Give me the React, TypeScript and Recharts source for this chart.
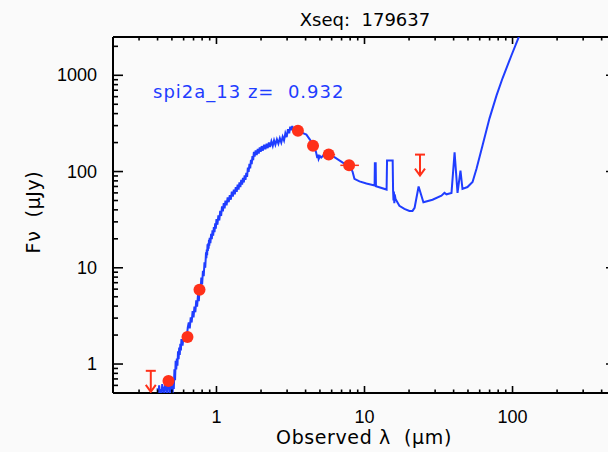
import React from 'react';
import { ComposedChart, Scatter, XAxis, YAxis, ErrorBar } from 'recharts';

const BLUE = '#1f3dff';
const RED = '#ff3019';
const BG = '#fafafa';

// model spectrum (wavelength in micron, flux in microJy)
const specWave = [
  0.400, 0.405, 0.410, 0.415, 0.420, 0.425, 0.430, 0.435, 0.440, 0.445,
  0.450, 0.455, 0.460, 0.465, 0.470, 0.475, 0.480, 0.485, 0.490, 0.495,
  0.500, 0.505, 0.510, 0.515, 0.520, 0.525, 0.530, 0.535, 0.540, 0.545,
  0.550, 0.555, 0.560, 0.565, 0.570, 0.575, 0.580, 0.590, 0.600, 0.610,
  0.620, 0.630, 0.640, 0.650, 0.660, 0.670, 0.680, 0.690, 0.700, 0.710,
  0.720, 0.730, 0.740, 0.750, 0.760, 0.770, 0.780, 0.790, 0.800, 0.810,
  0.820, 0.830, 0.840,
  0.850, 0.855, 0.860, 0.865, 0.870, 0.875, 0.880, 0.885, 0.890, 0.895,
  0.900, 0.910, 0.920, 0.930, 0.940, 0.950, 0.960, 0.970, 0.980, 0.990,
  1.000, 1.015, 1.030, 1.045, 1.060, 1.075, 1.090, 1.105, 1.120, 1.135,
  1.150, 1.170, 1.190, 1.210, 1.230, 1.250, 1.270, 1.290, 1.310, 1.330,
  1.350, 1.370, 1.390, 1.410, 1.430, 1.450, 1.470, 1.490, 1.510, 1.530,
  1.550, 1.570, 1.590, 1.610, 1.630, 1.650, 1.670, 1.690, 1.710, 1.730,
  1.750, 1.770, 1.790, 1.810, 1.840, 1.870, 1.900, 1.930, 1.960, 1.990,
  2.020, 2.060, 2.100, 2.140, 2.180, 2.220, 2.260, 2.300, 2.350, 2.400,
  2.450, 2.500, 2.560, 2.620, 2.680, 2.740, 2.800, 2.860, 2.920, 2.980,
  3.040, 3.100, 3.150, 3.200, 3.250, 3.300, 3.400,
  3.550, 3.800, 4.050, 4.300, 4.500, 4.700,
  4.800, 4.850, 4.900, 5.000, 5.100, 5.300, 5.600, 5.900, 6.300, 6.800,
  7.300, 7.900, 8.300, 8.550, 9.250, 10.30, 11.70, 11.75, 11.80, 11.90,
  11.95, 14.10, 14.20, 15.50, 15.60, 15.70, 15.80, 15.90, 16.00, 16.20,
  17.20, 18.60, 20.10, 21.10, 21.80, 23.20, 25.00, 28.80, 33.10, 34.70,
  35.80, 38.70, 40.60, 42.50, 44.50, 45.90, 49.60, 53.70, 57.10, 62.70,
  69.90, 78.00, 85.60, 98.40, 111.5, 126.0,
];
const specFlux = [
  0.56, 0.47, 0.60, 0.50, 0.55, 0.45, 0.62, 0.52, 0.58, 0.46,
  0.64, 0.53, 0.60, 0.47, 0.66, 0.55, 0.62, 0.46, 0.68, 0.52,
  0.64, 0.48, 0.66, 0.55, 0.88, 0.68, 1.08, 0.88, 1.14, 0.96,
  1.36, 1.12, 1.48, 1.24, 1.62, 1.38, 1.82, 1.55, 1.98, 1.72,
  2.15, 1.88, 2.40, 2.70, 2.35, 3.05, 2.70, 3.55, 3.05, 3.95,
  3.45, 4.60, 3.95, 5.20, 4.50, 6.20, 5.40, 7.90, 6.70, 9.30,
  8.20, 11.4, 10.0,
  14.5, 12.6, 15.5, 13.5, 17.5, 15.0, 18.0, 15.8, 19.5, 17.0,
  20.5, 18.0, 22.5, 19.8, 24.5, 21.5, 26.5, 23.5, 29.0, 25.5,
  32.0, 28.0, 35.0, 31.0, 39.0, 34.5, 43.5, 38.5, 47.0, 41.5,
  50.0, 44.5, 54.0, 48.0, 57.0, 51.0, 62.0, 55.0, 65.0, 58.0,
  69.0, 61.5, 73.0, 65.0, 77.0, 69.0, 82.0, 73.0, 86.0, 77.0,
  91.0, 82.0, 97.0, 88.0, 110.0, 99.0, 120.0, 108.0, 132.0, 119.0,
  145.0, 131.0, 160.0, 143.0, 166.0, 148.0, 172.0, 154.0, 178.0, 160.0,
  184.0, 165.0, 190.0, 170.0, 195.0, 175.0, 200.0, 180.0, 206.0, 185.0,
  211.0, 190.0, 216.0, 195.0, 222.0, 200.0, 230.0, 210.0, 250.0, 228.0,
  275.0, 250.0, 292.0, 268.0, 298.0, 270.0, 270.0,
  262.0, 252.0, 242.0, 212.0, 186.0, 160.0,
  138.0, 150.0, 135.0, 145.0, 140.0, 148.0, 150.0, 148.0, 140.0, 130.0,
  121.0, 115.0, 100.0, 84.0, 79.0, 75.0, 71.5, 125.0, 71.0, 125.0,
  70.5, 65.0, 130.0, 130.0, 63.0, 50.0, 62.0, 47.0, 58.0, 52.0,
  44.0, 41.0, 39.0, 39.0, 42.0, 70.0, 48.0, 51.0, 56.0, 60.0,
  58.0, 60.0, 158.0, 60.0, 102.0, 66.0, 69.0, 78.0, 107.0, 187.0,
  357.0, 619.0, 931.0, 1616.0, 2610.0, 4420.0,
];

// photometry
const photWave = [0.474, 0.637, 0.768, 3.55, 4.49, 5.73, 7.87];
const photFlux = [0.665, 1.91, 5.9, 265, 185, 150, 116];
const photErrLo = [0.02, 0.04, 0.03, 0.2, 0.35, 0.5, 1.0];
const photErrHi = [0.02, 0.04, 0.03, 0.2, 0.4, 0.6, 1.3];

// upper limits
const limWave = [0.36, 23.7];
const limFlux = [0.85, 150];

const xMajor = [1, 10, 100];
const xTicks = [
  0.2, 0.3, 0.4, 0.5, 0.6, 0.7, 0.8, 0.9, 1, 2, 3, 4, 5, 6, 7, 8, 9,
  10, 20, 30, 40, 50, 60, 70, 80, 90, 100, 200, 300, 400, 500,
];
const yMajor = [1, 10, 100, 1000];
const yTicks = [
  0.5, 0.6, 0.7, 0.8, 0.9, 1, 2, 3, 4, 5, 6, 7, 8, 9, 10, 20, 30, 40, 50, 60,
  70, 80, 90, 100, 200, 300, 400, 500, 600, 700, 800, 900, 1000, 2000,
];

const spec = specWave.map((w, i) => ({ x: w, y: specFlux[i] }));
const phot = photWave.map((w, i) => ({ x: w, y: photFlux[i], xe: [photErrLo[i], photErrHi[i]] }));
const lims = limWave.map((w, i) => ({ x: w, y: limFlux[i] }));

const TICK_FONT = "'Liberation Sans', Arial, sans-serif";
const TEXT_FONT = "'DejaVu Sans', sans-serif";
const TW = 1.6;

const BottomTick = (p: any) => {
  const { x, y, payload } = p;
  const major = xMajor.includes(payload.value);
  return (
    <g>
      <line x1={x} x2={x} y1={y} y2={y - (major ? 7 : 3.5)} stroke="#000" strokeWidth={TW} />
      {major && (
        <text x={x} y={y + 24} textAnchor="middle" dominantBaseline="central" fontSize={18} fontFamily={TICK_FONT} fill="#000">
          {String(payload.value)}
        </text>
      )}
    </g>
  );
};
const TopTick = (p: any) => {
  const { x, y, payload } = p;
  const major = xMajor.includes(payload.value);
  return <line x1={x} x2={x} y1={y} y2={y + (major ? 7 : 3.5)} stroke="#000" strokeWidth={TW} />;
};
const LeftTick = (p: any) => {
  const { x, y, payload } = p;
  const major = yMajor.includes(payload.value);
  return (
    <g>
      <line x1={x} x2={x + (major ? 10 : 5)} y1={y} y2={y} stroke="#000" strokeWidth={TW} />
      {major && (
        <text x={x - 16} y={y} textAnchor="end" dominantBaseline="central" fontSize={18} fontFamily={TICK_FONT} fill="#000">
          {String(payload.value)}
        </text>
      )}
    </g>
  );
};
const RightTick = (p: any) => {
  const { x, y, payload } = p;
  const major = yMajor.includes(payload.value);
  return <line x1={x} x2={x - (major ? 10 : 5)} y1={y} y2={y} stroke="#000" strokeWidth={TW} />;
};

const NoDot = () => <g />;
const Dot = (p: any) => <circle cx={p.cx} cy={p.cy} r={6} fill={RED} />;
const Limit = (p: any) => {
  const { cx, cy } = p;
  return (
    <g stroke={RED} strokeWidth={2} fill="none">
      <line x1={cx - 5} x2={cx + 5} y1={cy} y2={cy} />
      <line x1={cx} x2={cx} y1={cy} y2={cy + 21} />
      <polyline points={`${cx - 5},${cy + 14} ${cx},${cy + 21} ${cx + 5},${cy + 14}`} />
    </g>
  );
};

const axisLine = { stroke: '#000', strokeWidth: 2 };

export default function App() {
  return (
    <div style={{ position: 'absolute', left: 0, top: 0, width: 608, height: 452, overflow: 'hidden', background: BG }}>
      <ComposedChart width={640} height={452} margin={{ top: 36, right: 23, bottom: 0, left: 0 }}>
        <XAxis
          dataKey="x" type="number" scale="log" domain={[0.2, 500]} allowDataOverflow
          ticks={xTicks} interval={0} tickSize={0} tickMargin={0} tickLine={false}
          tick={BottomTick} axisLine={axisLine} height={59}
        />
        <XAxis
          xAxisId="top" orientation="top" dataKey="x" type="number" scale="log" domain={[0.2, 500]} allowDataOverflow
          ticks={xTicks} interval={0} tickSize={0} tickMargin={0} tickLine={false}
          tick={TopTick} axisLine={axisLine} height={1}
        />
        <YAxis
          dataKey="y" type="number" scale="log" domain={[0.5, 2500]} allowDataOverflow
          ticks={yTicks} interval={0} tickSize={0} tickMargin={0} tickLine={false}
          tick={LeftTick} axisLine={axisLine} width={113}
        />
        <YAxis
          yAxisId="right" orientation="right" dataKey="y" type="number" scale="log" domain={[0.5, 2500]} allowDataOverflow
          ticks={yTicks} interval={0} tickSize={0} tickMargin={0} tickLine={false}
          tick={RightTick} axisLine={axisLine} width={1}
        />
        <Scatter data={spec} dataKey="y" line={{ stroke: BLUE, strokeWidth: 2 }} shape={NoDot} isAnimationActive={false} legendType="none" />
        <Scatter data={phot} dataKey="y" shape={Dot} isAnimationActive={false} legendType="none">
          <ErrorBar dataKey="xe" direction="x" width={0} stroke={RED} strokeWidth={1.5} isAnimationActive={false} />
        </Scatter>
        <Scatter data={lims} dataKey="y" shape={Limit} isAnimationActive={false} legendType="none" />
      </ComposedChart>
      <div style={{ position: 'absolute', left: 365, top: 19, transform: 'translate(-50%,-50%)', fontFamily: TEXT_FONT, fontSize: 18, whiteSpace: 'pre', color: '#000' }}>
        {'Xseq:  179637'}
      </div>
      <div style={{ position: 'absolute', left: 153, top: 91, transform: 'translate(0,-50%)', fontFamily: TEXT_FONT, fontSize: 18, letterSpacing: 1, whiteSpace: 'pre', color: BLUE }}>
        {'spi2a_13 z=  0.932'}
      </div>
      <div style={{ position: 'absolute', left: 364, top: 437, transform: 'translate(-50%,-50%)', fontFamily: TEXT_FONT, fontSize: 19, letterSpacing: 0.6, whiteSpace: 'pre', color: '#000' }}>
        {'Observed λ  (μm)'}
      </div>
      <div style={{ position: 'absolute', left: 33, top: 212, transform: 'translate(-50%,-50%) rotate(-90deg)', fontFamily: TEXT_FONT, fontSize: 19, letterSpacing: 0.6, whiteSpace: 'pre', color: '#000' }}>
        {'Fν  (μJy)'}
      </div>
    </div>
  );
}
